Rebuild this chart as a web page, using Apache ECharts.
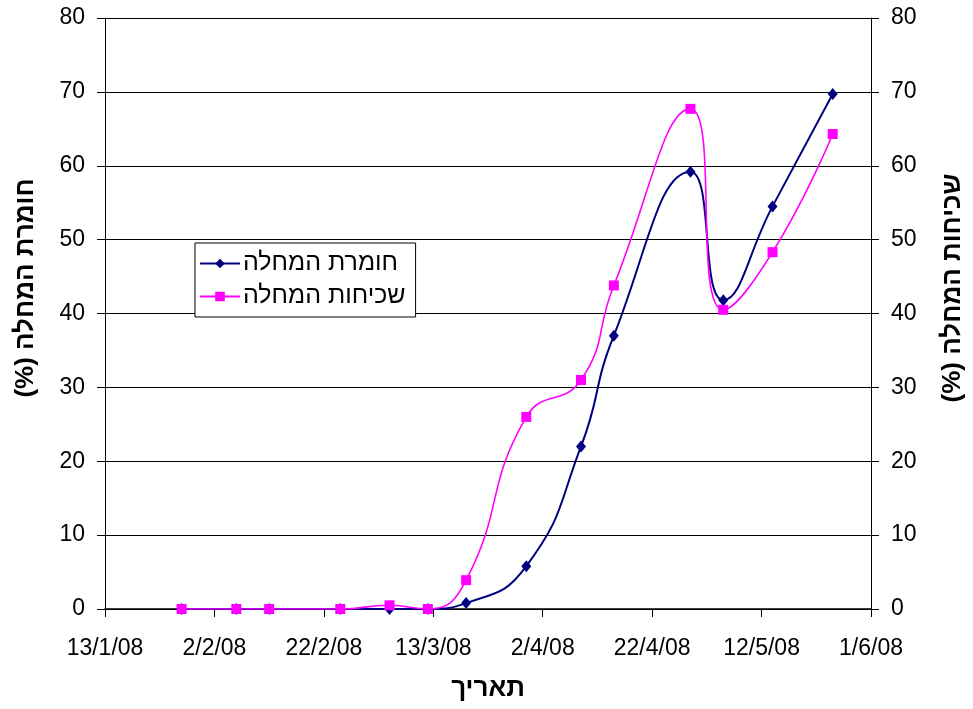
<!DOCTYPE html>
<html>
<head>
<meta charset="utf-8">
<script src="https://cdn.jsdelivr.net/npm/echarts@6/dist/echarts.min.js"></script>
<style>
html,body{margin:0;padding:0;background:#fff;}
#chart{width:973px;height:709px;}
</style>
</head>
<body>
<div id="chart"></div>
<script>
// ---- data ----
const dates = ['2008-01-27','2008-02-06','2008-02-12','2008-02-25','2008-03-05','2008-03-12','2008-03-19','2008-03-30','2008-04-09','2008-04-15','2008-04-29','2008-05-05','2008-05-14','2008-05-25'];
const severity  = [0, 0, 0, 0, 0, 0, 0.8, 5.8, 22, 37, 59.2, 41.8, 54.5, 69.7];
const incidence = [0, 0, 0, 0, 0.5, 0, 3.9, 26, 31, 43.8, 67.7, 40.5, 48.3, 64.3];
const xTickLabels = ['13/1/08','2/2/08','22/2/08','13/3/08','2/4/08','22/4/08','12/5/08','1/6/08'];
const yTickLabels = ['0','10','20','30','40','50','60','70','80'];
const seriesNames = ['חומרת המחלה', 'שכיחות המחלה'];
const leftTitle = 'חומרת המחלה (%)';
const rightTitle = 'שכיחות המחלה (%)';
const xTitle = 'תאריך';

// ---- build ----
const startDay = Date.UTC(2008, 0, 13);
const dayOf = d => (Date.parse(d + 'T00:00:00Z') - startDay) / 86400000;
const pairs = vals => dates.map((d, i) => [dayOf(d), vals[i]]);
const RLM = '\u200F';
const FONT = "'Liberation Sans', Arial, sans-serif";

const chart = echarts.init(document.getElementById('chart'), null, {renderer: 'canvas'});
const yAxisCommon = {
  type: 'value', min: 0, max: 80, interval: 10,
  axisLine: {show: true, lineStyle: {color: '#000', width: 1}},
  axisTick: {show: true, length: 8, lineStyle: {color: '#000'}},
  axisLabel: {color: '#000', fontSize: 23, fontFamily: FONT, margin: 20,
    formatter: v => yTickLabels[Math.round(v / 10)]},
};
chart.setOption({
  animation: false,
  backgroundColor: '#fff',
  grid: {left: 105, right: 102, top: 18, bottom: 100, containLabel: false},
  legend: {
    orient: 'vertical', left: 195, top: 243,
    data: seriesNames,
    backgroundColor: '#fff', borderColor: '#000', borderWidth: 1,
    padding: [8, 10, 8, 4], itemGap: 8, itemWidth: 40, itemHeight: 12,
    textStyle: {color: '#000', fontSize: 25, fontFamily: FONT, padding: [0, 0, 0, -2]}
  },
  xAxis: {
    type: 'value', min: 0, max: 140, interval: 20,
    axisLine: {show: true, onZero: false, lineStyle: {color: '#000', width: 1.5}},
    axisTick: {show: true, length: 8, lineStyle: {color: '#000'}},
    splitLine: {show: false},
    axisLabel: {color: '#000', fontSize: 23, fontFamily: FONT, margin: 28,
      formatter: v => xTickLabels[Math.round(v / 20)]},
    name: xTitle, nameLocation: 'middle', nameGap: 67,
    nameTextStyle: {color: '#000', fontSize: 26, fontWeight: 'bold', fontFamily: FONT}
  },
  yAxis: [
    Object.assign({}, yAxisCommon, {position: 'left',
      splitLine: {show: true, lineStyle: {color: '#000', width: 1}}}),
    Object.assign({}, yAxisCommon, {position: 'right', splitLine: {show: false}})
  ],
  graphic: [
    {type: 'text', x: 26, y: 288, rotation: Math.PI / 2,
     style: {text: leftTitle + RLM, fill: '#000', font: "bold 26px 'Liberation Sans', Arial, sans-serif",
       textAlign: 'center', textVerticalAlign: 'middle'}},
    {type: 'text', x: 953, y: 288, rotation: Math.PI / 2,
     style: {text: rightTitle + RLM, fill: '#000', font: "bold 26px 'Liberation Sans', Arial, sans-serif",
       textAlign: 'center', textVerticalAlign: 'middle'}}
  ],
  series: [
    {name: seriesNames[0], type: 'line', yAxisIndex: 0, data: pairs(severity),
     smooth: 0.5, symbol: 'diamond', symbolSize: [10, 12], showAllSymbol: true,
     itemStyle: {color: '#000080'}, lineStyle: {color: '#000080', width: 2}},
    {name: seriesNames[1], type: 'line', yAxisIndex: 1, data: pairs(incidence),
     smooth: 0.5, symbol: 'rect', symbolSize: 10, showAllSymbol: true,
     itemStyle: {color: '#FF00FF'}, lineStyle: {color: '#FF00FF', width: 1.6}}
  ]
});
</script>
</body>
</html>
